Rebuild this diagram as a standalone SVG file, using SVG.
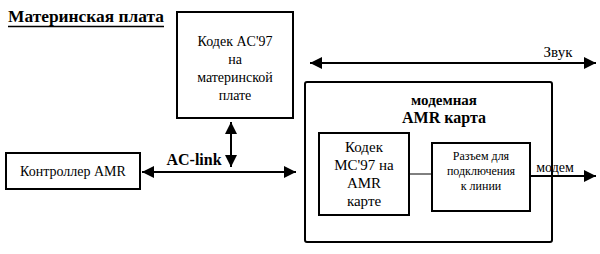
<svg xmlns="http://www.w3.org/2000/svg" width="600" height="254" viewBox="0 0 600 254">
<style>
  text{font-family:"Liberation Serif","DejaVu Serif","Times New Roman",serif;fill:#000}
  .box{fill:#fff;stroke:#000;stroke-width:2}
  .t{text-anchor:middle}
  .ln{stroke:#000;stroke-width:2;fill:none}
</style>
<defs>
  <marker id="ah" viewBox="0 0 10 10" refX="10" refY="5" markerWidth="6.5" markerHeight="6" orient="auto-start-reverse" markerUnits="strokeWidth">
    <path d="M0,0 L10,5 L0,10 z" fill="#000"/>
  </marker>
</defs>
<rect width="600" height="254" fill="#fff"/>
<g id="title">
  <text x="8" y="22" font-weight="bold" font-size="16" textLength="156" lengthAdjust="spacingAndGlyphs">Материнская плата</text>
  <line x1="8" y1="26.5" x2="164" y2="26.5" stroke="#000" stroke-width="1.5"/>
</g>
<g id="codec-mb">
  <rect class="box" x="177" y="12" width="116" height="106"/>
  <text class="t" font-size="14" x="235" y="46">Кодек AC'97</text>
  <text class="t" font-size="14" x="235" y="64">на</text>
  <text class="t" font-size="14" x="235" y="82">материнской</text>
  <text class="t" font-size="14" x="235" y="100">плате</text>
</g>
<g id="controller">
  <rect class="box" x="6" y="153" width="134" height="36"/>
  <text class="t" font-size="14" x="73" y="176">Контроллер AMR</text>
</g>
<g id="modem-card">
  <rect class="box" x="305" y="82" width="247" height="160" rx="2"/>
  <text class="t" font-size="15" font-weight="bold" x="444" y="105">модемная</text>
  <text class="t" font-size="16" font-weight="bold" x="444" y="123">AMR карта</text>
</g>
<g id="codec-amr">
  <rect class="box" x="319" y="133" width="90" height="82"/>
  <text class="t" font-size="15" x="364" y="152">Кодек</text>
  <text class="t" font-size="15" x="364" y="170">MC'97 на</text>
  <text class="t" font-size="15" x="364" y="188">AMR</text>
  <text class="t" font-size="15" x="364" y="206">карте</text>
</g>
<g id="connector">
  <rect class="box" x="432" y="143" width="98" height="68"/>
  <text class="t" font-size="12" x="481" y="160">Разъем для</text>
  <text class="t" font-size="12" x="481" y="175">подключения</text>
  <text class="t" font-size="12" x="481" y="190">к линии</text>
</g>
<g id="connectors">
  <line class="ln" x1="231" y1="122" x2="231" y2="167" marker-start="url(#ah)" marker-end="url(#ah)"/>
  <line class="ln" x1="142" y1="172" x2="296" y2="172" marker-start="url(#ah)" marker-end="url(#ah)"/>
  <text x="194" y="165" font-weight="bold" font-size="16" text-anchor="middle">AC-link</text>
  <line class="ln" x1="310" y1="63" x2="596" y2="63" marker-start="url(#ah)" marker-end="url(#ah)"/>
  <text x="558" y="57" font-size="15" text-anchor="middle">Звук</text>
  <line x1="409" y1="174" x2="432" y2="174" stroke="#000" stroke-width="1"/>
  <line class="ln" x1="530" y1="176" x2="596" y2="176" marker-end="url(#ah)"/>
  <text x="555" y="172" font-size="14" text-anchor="middle">модем</text>
</g>
</svg>
